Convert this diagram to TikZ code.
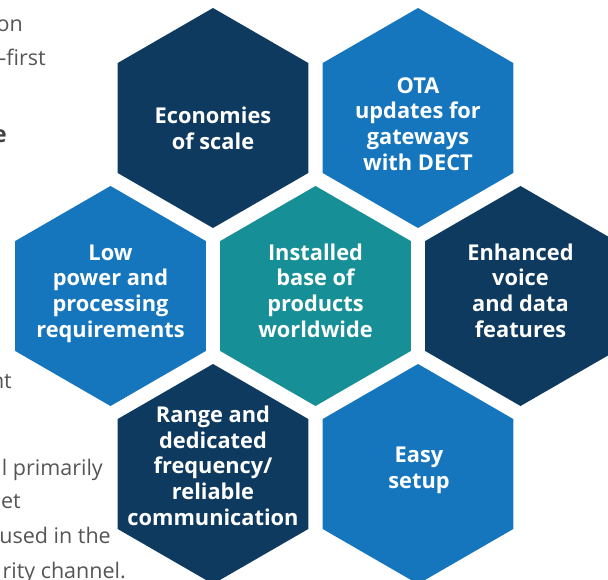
\documentclass[tikz,border=0pt]{standalone}
\usepackage{fontspec}
\setmainfont{Open Sans}
\usetikzlibrary{shapes.geometric}
\definecolor{navy}{RGB}{15,58,95}
\definecolor{midblue}{RGB}{21,118,190}
\definecolor{teal}{RGB}{23,143,151}
\definecolor{bodygray}{RGB}{85,85,85}
\tikzset{
  hexa/.style={regular polygon, regular polygon sides=6, shape border rotate=30,
    minimum size=220pt, inner sep=0pt, outer sep=0pt, draw=none},
  hextext/.style={anchor=base, text=white, inner sep=0pt,
    font=\fontsize{21.8}{25.6}\selectfont\bfseries},
  bodytext/.style={anchor=base east, text=bodygray, inner sep=0pt,
    font=\fontsize{21.5}{35}\selectfont}
}
\newcommand{\hexlines}[1]{\begin{tabular}[b]{@{}c@{}}#1\end{tabular}}
\begin{document}
\begin{tikzpicture}[x=1pt,y=-1pt]
\useasboundingbox (0,0) rectangle (608,579);
\clip (0,0) rectangle (608,579);
% body text fragments at the left edge
\node[bodytext] (b1) at (23,31) {on};
\node[bodytext] (b2) at (46,65) {–first};
\node[bodytext, text=black!75, font=\fontsize{23}{30}\selectfont\bfseries] (b3) at (7,142) {e};
\node[bodytext] (b4) at (12,388) {nt};
\node[bodytext] (b5) at (103,475) {l primarily};
\node[bodytext] (b6) at (21,508) {et};
\node[bodytext] (b7) at (111,543) {used in the};
\node[bodytext] (b8) at (126,578) {rity channel.};
% hexagons
\node[hexa, fill=navy]    (econ)  at (213,118) {};
\node[hexa, fill=midblue] (ota)   at (418,118) {};
\node[hexa, fill=midblue] (low)   at (110.5,296) {};
\node[hexa, fill=teal]    (inst)  at (315.5,296) {};
\node[hexa, fill=navy]    (enh)   at (520.5,296) {};
\node[hexa, fill=navy]    (range) at (213,474) {};
\node[hexa, fill=midblue] (easy)  at (418,474) {};
% labels
\node[hextext] (tecon)  at (213,149)   {\hexlines{Economies\\of scale}};
\node[hextext] (tota)   at (418,170)   {\hexlines{OTA\\updates for\\gateways\\with DECT}};
\node[hextext] (tlow)   at (110.5,337) {\hexlines{Low\\power and\\processing\\requirements}};
\node[hextext] (tinst)  at (315.5,337) {\hexlines{Installed\\base of\\products\\worldwide}};
\node[hextext] (tenh)   at (520.5,337) {\hexlines{Enhanced\\voice\\and data\\features}};
\node[hextext] (trange) at (213,525)   {\hexlines{Range and\\dedicated\\frequency/\\reliable\\communication}};
\node[hextext] (teasy)  at (419,488.5) {\hexlines{Easy\\setup}};
\end{tikzpicture}
\end{document}
